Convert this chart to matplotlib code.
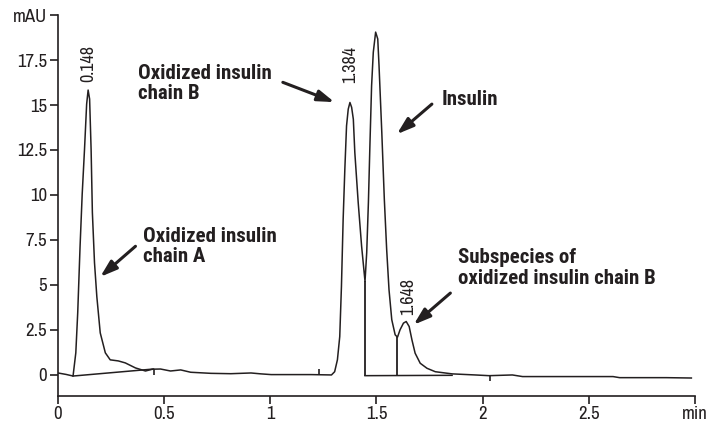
import matplotlib
matplotlib.use('Agg')
import matplotlib.pyplot as plt
from matplotlib import font_manager

# chromatogram trace (min, mAU)
time_min = [0.000, 0.038, 0.071, 0.084, 0.093, 0.104, 0.114, 0.125, 0.135, 0.142,
            0.149, 0.156, 0.162, 0.172, 0.183, 0.199, 0.223, 0.246, 0.284, 0.317,
            0.365, 0.412, 0.445, 0.483, 0.530, 0.578, 0.625, 0.720, 0.814, 0.909,
            0.956, 1.004, 1.193, 1.288, 1.303, 1.316, 1.327, 1.335, 1.343, 1.351,
            1.359, 1.367, 1.375, 1.383, 1.391, 1.398, 1.414, 1.430, 1.446, 1.454,
            1.462, 1.469, 1.477, 1.485, 1.496, 1.506, 1.512, 1.525, 1.537, 1.548,
            1.559, 1.572, 1.588, 1.599, 1.611, 1.627, 1.640, 1.654, 1.667, 1.682,
            1.706, 1.738, 1.777, 1.856, 1.965, 2.030, 2.140, 2.188, 2.377, 2.614,
            2.645, 2.865, 2.983]
signal_mau = [0.11, 0.03, -0.06, 1.23, 3.46, 7.13, 10.03, 12.54, 15.05, 15.83,
              15.33, 12.54, 9.03, 6.24, 4.35, 2.34, 1.23, 0.84, 0.78, 0.67,
              0.39, 0.22, 0.32, 0.33, 0.22, 0.28, 0.15, 0.09, 0.07, 0.11,
              0.06, 0.02, 0.02, 0.00, 0.18, 0.84, 2.13, 4.92, 8.64, 11.43,
              13.84, 14.77, 15.14, 14.87, 14.21, 12.36, 9.57, 7.15, 5.20, 6.80,
              9.59, 12.73, 16.07, 17.93, 19.05, 18.67, 17.19, 13.49, 9.75, 6.97,
              4.74, 3.07, 2.23, 2.10, 2.51, 2.88, 2.97, 2.69, 1.95, 1.21,
              0.65, 0.37, 0.18, 0.06, 0.00, -0.04, 0.00, -0.09, -0.09, -0.09,
              -0.15, -0.15, -0.17]

# integration baselines and peak split lines
base_t = [[0.071, 0.450], [1.446, 1.856]]
base_y = [[-0.06, 0.33], [-0.04, -0.02]]
drop_t = [1.446, 1.599]
drop_top = [5.20, 2.10]
drop_bottom = [-0.04, -0.03]

# small event marks on the baseline
event_t = [0.450, 1.231, 2.033]
event_y0 = [0.33, 0.02, -0.04]
event_y1 = [0.00, 0.32, -0.36]

# retention time labels
rt_labels = ['0.148', '1.384', '1.648']
rt_x = [0.1435, 1.378, 1.651]
rt_y = [16.3, 16.2, 3.35]

# callouts: text, text position, arrow tail, arrow tip
callouts = ['Oxidized insulin\nchain B', 'Insulin',
            'Oxidized insulin\nchain A', 'Subspecies of\noxidized insulin chain B']
text_x = [0.379, 1.805, 0.402, 1.884]
text_y = [16.2, 15.3, 7.15, 5.95]
tail_x = [1.059, 1.761, 0.365, 1.848]
tail_y = [16.26, 15.05, 7.15, 4.55]
tip_x = [1.302, 1.596, 0.199, 1.675]
tip_y = [15.16, 13.38, 5.45, 2.79]

x_ticks = [0, 0.5, 1, 1.5, 2, 2.5, 3]
x_tick_labels = ['0', '0.5', '1', '1.5', '2', '2.5', 'min']
y_ticks = [0, 2.5, 5, 7.5, 10, 12.5, 15, 17.5, 20]
y_tick_labels = ['0', '2.5', '5', '7.5', '10', '12.5', '15', '17.5', 'mAU']

ink = '#231f20'
narrow = ['Archivo Narrow', 'Asap Condensed', 'Barlow Semi Condensed', 'DejaVu Sans']


def first_bold(names):
    # a condensed family that really ships a bold face
    for name in names:
        for f in font_manager.fontManager.ttflist:
            if f.name == name and f.weight in (700, 'bold'):
                return name
    return 'DejaVu Sans'


bold_family = first_bold(['Roboto Condensed', 'PT Sans Narrow', 'IBM Plex Sans Condensed',
                          'Fira Sans Condensed', 'Asap Condensed', 'Barlow Semi Condensed'])

fig = plt.figure(figsize=(7.07, 4.23), dpi=100)
ax = fig.add_axes([0.082, 0.0638, 0.901, 0.9007])

ax.plot(time_min, signal_mau, color=ink, lw=1.1)
for bt, by in zip(base_t, base_y):
    ax.plot(bt, by, color=ink, lw=1.1)
ax.vlines(drop_t, drop_bottom, drop_top, color=ink, lw=1.3)
ax.vlines(event_t, event_y0, event_y1, color=ink, lw=1.2)

for lab, x, y in zip(rt_labels, rt_x, rt_y):
    ax.text(x, y, lab, rotation=90, ha='center', va='bottom',
            fontsize=13, color=ink, family=narrow)

for txt, x, y, x0, y0, x1, y1 in zip(callouts, text_x, text_y, tail_x, tail_y, tip_x, tip_y):
    ax.text(x, y, txt, ha='left', va='center', fontsize=15, fontweight='bold',
            color=ink, family=[bold_family, 'DejaVu Sans'], linespacing=1.1)
    ax.annotate('', xy=(x1, y1), xytext=(x0, y0),
                arrowprops=dict(arrowstyle='-|>,head_length=1.0,head_width=0.33',
                                color=ink, lw=2.2, shrinkA=0, shrinkB=0))

ax.set_xlim(0, 3)
ax.set_ylim(-1.17, 20)
ax.set_xticks(x_ticks)
ax.set_xticklabels(x_tick_labels)
ax.set_yticks(y_ticks)
ax.set_yticklabels(y_tick_labels)
for lab in ax.get_xticklabels() + ax.get_yticklabels():
    lab.set_family(narrow)
    lab.set_fontsize(13.5)
    lab.set_color(ink)

ax.spines['top'].set_visible(False)
ax.spines['right'].set_visible(False)
ax.spines['left'].set_color(ink)
ax.spines['bottom'].set_color(ink)
ax.spines['left'].set_linewidth(1.2)
ax.spines['bottom'].set_linewidth(1.2)
ax.tick_params(axis='both', direction='out', length=6, width=1.2, color=ink)
ax.tick_params(axis='x', pad=1.5)
ax.tick_params(axis='y', pad=2)

fig.savefig('out.png', dpi=100)
